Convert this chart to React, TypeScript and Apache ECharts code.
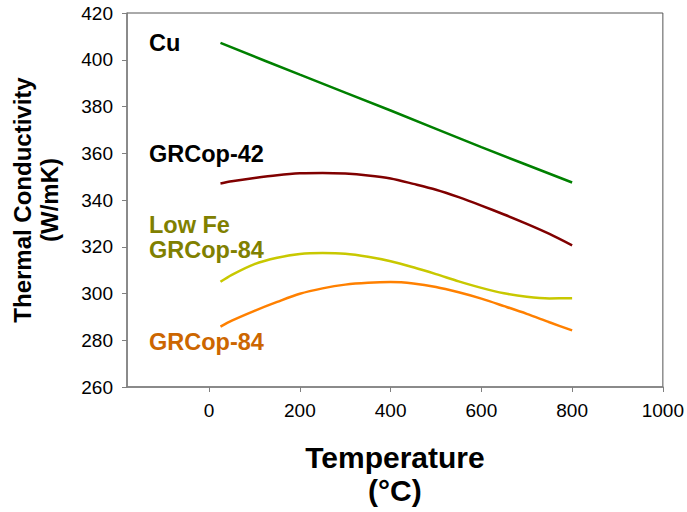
import React, { useEffect, useRef } from "react";
import * as echarts from "echarts";

const temps = [25, 50, 100, 150, 200, 250, 300, 350, 400, 450, 500, 550, 600, 650, 700, 750, 800];
const cuTemps = [25, 200, 400, 600, 800];
const cu = [407.2, 393.6, 378.3, 362.6, 347.5];
const grcop42 = [347.1, 348.0, 349.4, 350.6, 351.4, 351.6, 351.3, 350.5, 349.2, 346.9, 344.4, 341.2, 337.6, 333.8, 329.8, 325.5, 320.6];
const lowFe84 = [305.0, 308.0, 312.6, 315.3, 316.9, 317.3, 317.0, 315.7, 313.8, 311.2, 308.3, 305.2, 302.4, 300.1, 298.6, 297.9, 298.0];
const grcop84 = [285.8, 288.4, 292.6, 296.4, 299.9, 302.2, 303.8, 304.6, 304.9, 304.3, 302.8, 300.5, 297.8, 294.6, 291.3, 287.7, 284.2];
const xTicks = [0, 200, 400, 600, 800, 1000];

const FONT = "'Liberation Sans', Arial, Helvetica, sans-serif";

export default function App() {
  const ref = useRef<HTMLDivElement>(null);
  useEffect(() => {
    if (!ref.current) return;
    const chart = echarts.init(ref.current, null, { renderer: "svg" });
    const mk = (name: string, xs: number[], vals: number[], color: string) => ({
      name,
      type: "line",
      smooth: 0.3,
      showSymbol: false,
      data: xs.map((t, i) => [t, vals[i]]),
      lineStyle: { color, width: 2.5 },
      itemStyle: { color },
    });
    const label = (text: string, x: number, mid: number, color: string) => ({
      type: "text",
      left: x,
      top: mid - 13,
      style: { text, fill: color, font: `bold 23.5px ${FONT}` },
    });
    chart.setOption({
      animation: false,
      backgroundColor: "#fff",
      textStyle: { fontFamily: FONT },
      grid: { left: 127, right: 24, top: 13, bottom: 124, show: true, borderColor: "#555", borderWidth: 1 },
      xAxis: {
        type: "value",
        min: -181,
        max: 1000,
        name: "Temperature\n(°C)",
        nameLocation: "middle",
        nameGap: 54,
        nameTextStyle: { fontSize: 30, fontWeight: "bold", color: "#000", lineHeight: 33, fontFamily: FONT, verticalAlign: "top" },
        axisLine: { onZero: false, lineStyle: { color: "#808080", width: 1.5 } },
        axisTick: { show: true, customValues: xTicks, length: 5, lineStyle: { color: "#808080" } },
        axisLabel: { customValues: xTicks, fontSize: 19, color: "#000", margin: 14, fontFamily: FONT, formatter: (v: number) => String(v) },
        splitLine: { show: false },
      },
      yAxis: {
        type: "value",
        min: 260,
        max: 420,
        interval: 20,
        name: "Thermal Conductivity\n(W/mK)",
        nameLocation: "middle",
        nameRotate: 90,
        nameGap: 64,
        nameTextStyle: { fontSize: 24, fontWeight: "bold", color: "#000", lineHeight: 27, fontFamily: FONT },
        axisLine: { show: true, onZero: false, lineStyle: { color: "#808080", width: 1.5 } },
        axisTick: { show: true, length: 5, lineStyle: { color: "#808080" } },
        axisLabel: { fontSize: 19, color: "#000", margin: 14, fontFamily: FONT },
        splitLine: { show: false },
      },
      series: [
        mk("Cu", cuTemps, cu, "#008000"),
        mk("GRCop-42", temps, grcop42, "#800000"),
        mk("Low Fe GRCop-84", temps, lowFe84, "#C8C800"),
        mk("GRCop-84", temps, grcop84, "#FF8000"),
      ],
      graphic: [
        label("Cu", 149, 44, "#000"),
        label("GRCop-42", 149, 155, "#000"),
        label("Low Fe", 149, 226, "#808000"),
        label("GRCop-84", 149, 251, "#808000"),
        label("GRCop-84", 149, 343, "#CC6600"),
      ],
    });
    return () => chart.dispose();
  }, []);
  return <div ref={ref} style={{ position: "fixed", left: 0, top: 0, width: 687, height: 512 }} />;
}
